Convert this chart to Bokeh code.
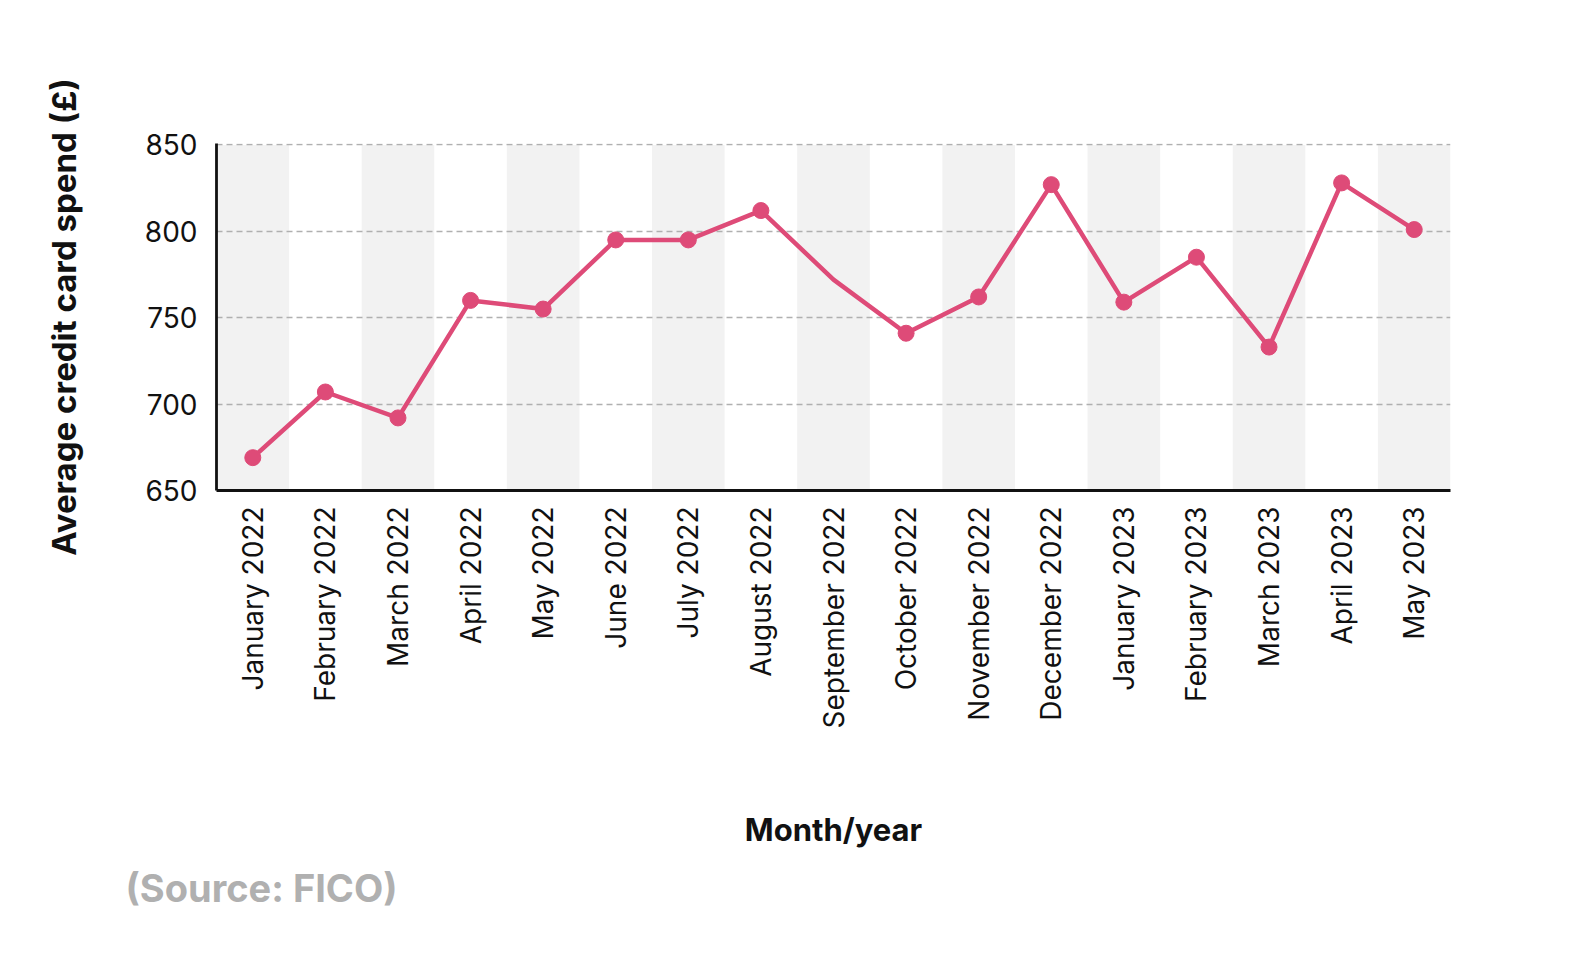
from math import pi

from bokeh.embed import file_html
from bokeh.models import ColumnDataSource, FactorRange, Range1d, Title, FixedTicker
from bokeh.plotting import figure
from bokeh.resources import INLINE

months = [
    "January 2022", "February 2022", "March 2022", "April 2022", "May 2022",
    "June 2022", "July 2022", "August 2022", "September 2022", "October 2022",
    "November 2022", "December 2022", "January 2023", "February 2023",
    "March 2023", "April 2023", "May 2023",
]
spend = [669, 707, 692, 760, 755, 795, 795, 812, 772, 741, 762, 827, 759, 785, 733, 828, 801]
has_marker = [True] * 8 + [False] + [True] * 8
y_ticks = [650, 700, 750, 800, 850]

FONT = "Inter"
PINK = "#de4b78"

p = figure(
    x_range=FactorRange(factors=months, range_padding=0),
    y_range=Range1d(650, 850.8),
    width=1560,
    height=940,
    output_backend="svg",
    toolbar_location=None,
    min_border_left=216,
    min_border_right=110,
    min_border_top=143,
    min_border_bottom=450,
    x_axis_label="Month/year",
    y_axis_label="Average credit card spend (£)",
)
p.outline_line_color = None

# alternating grey column bands, kept under the grid lines
bands = [m for i, m in enumerate(months) if i % 2 == 0]
b = p.vbar(x=bands, top=850, bottom=650, width=1, fill_color="#f2f2f2", line_color=None)
b.level = "image"

p.line(months, spend, line_color=PINK, line_width=4.5)
mk = ColumnDataSource(dict(
    x=[m for m, f in zip(months, has_marker) if f],
    y=[v for v, f in zip(spend, has_marker) if f],
))
p.scatter("x", "y", source=mk, size=16, fill_color=PINK, line_color=PINK)

p.xgrid.grid_line_color = None
p.ygrid.grid_line_color = "#b0b0b0"
p.ygrid.grid_line_dash = "6 4"
p.ygrid.grid_line_width = 1.3
p.ygrid.ticker = FixedTicker(ticks=y_ticks)

p.yaxis.ticker = FixedTicker(ticks=y_ticks)
for ax in (p.xaxis[0], p.yaxis[0]):
    ax.axis_line_color = "#111111"
    ax.axis_line_width = 2.8
    ax.major_tick_line_color = None
    ax.minor_tick_line_color = None
    ax.major_label_text_font = FONT
    ax.major_label_text_font_size = "28px"
    ax.major_label_text_color = "#111111"
    ax.axis_label_text_font = FONT
    ax.axis_label_text_font_style = "bold"
    ax.axis_label_text_font_size = "31px"
    ax.axis_label_text_color = "#111111"

p.xaxis.major_label_orientation = pi / 2
p.xaxis.major_label_standoff = 10
p.xaxis.axis_label_standoff = 80
p.yaxis.major_label_standoff = 13
p.yaxis.axis_label_standoff = 58
p.yaxis.axis_label_text_font_size = "33px"

p.add_layout(
    Title(
        text="(Source: FICO)",
        align="left",
        offset=-91,
        text_font=FONT,
        text_font_size="38px",
        text_font_style="bold",
        text_color="#b0b0b0",
        standoff=22,
    ),
    "below",
)

open("out.html", "w").write(file_html(p, INLINE))
